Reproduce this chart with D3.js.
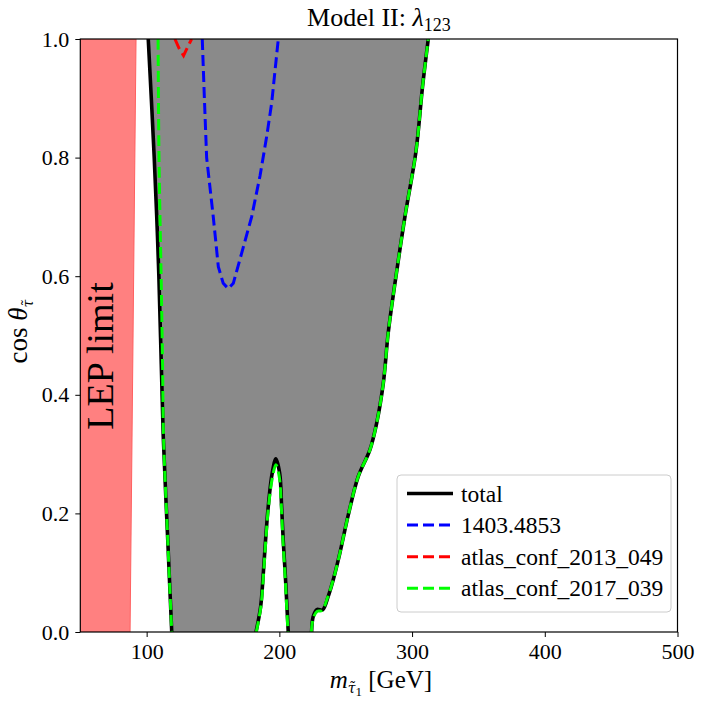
<!DOCTYPE html>
<html>
<head>
<meta charset="utf-8">
<script src="https://cdn.jsdelivr.net/npm/d3@7"></script>
<style>
  body { margin: 0; background: #fff; }
  svg { display: block; }
</style>
</head>
<body>
<svg id="chart" width="705" height="708"></svg>
<script>
// Contours: [mass in GeV, cos theta]
const totalLeft = [[101.2, 1.0], [103.5, 0.9], [105.7, 0.8], [107.6, 0.7], [109.2, 0.6],
  [110.8, 0.47], [112.5, 0.33], [115.8, 0.16], [118.9, 0.0]];
const totalPeak = [[182.4, 0.0], [185.9, 0.043], [187.9, 0.099], [189.6, 0.155], [191.6, 0.211],
  [194.6, 0.268], [197.4, 0.292], [200.2, 0.268], [201.7, 0.211], [202.9, 0.155],
  [204.4, 0.099], [205.7, 0.043], [206.7, 0.0]];
const totalRight = [[224.3, 0.0], [225.5, 0.026], [228.3, 0.038], [232.5, 0.037], [236.8, 0.06],
  [240.6, 0.088], [245.6, 0.133], [251.9, 0.197], [259.4, 0.262], [268.2, 0.307],
  [273.3, 0.352], [278.3, 0.419], [282.0, 0.504], [287.1, 0.588], [294.6, 0.700],
  [302.9, 0.810], [307.9, 0.92], [312.2, 1.0]];

const greenLeft = [[108.6, 1.0], [109.3, 0.8], [110.9, 0.6], [112.0, 0.45], [112.7, 0.33],
  [115.8, 0.16], [118.9, 0.0]];
const greenPeak = [[182.6, 0.0], [186.1, 0.043], [188.1, 0.099], [189.8, 0.155], [191.8, 0.211],
  [194.9, 0.262], [197.4, 0.282], [199.9, 0.262], [201.5, 0.211], [202.7, 0.155],
  [204.2, 0.099], [205.5, 0.043], [206.5, 0.0]];
const greenRight = [[224.1, 0.0], [225.6, 0.024], [228.6, 0.035], [232.0, 0.036], [236.6, 0.06],
  [240.6, 0.088], [245.6, 0.133], [251.9, 0.197], [259.4, 0.262], [268.2, 0.307],
  [273.3, 0.352], [278.3, 0.419], [282.0, 0.504], [287.1, 0.588], [294.6, 0.700],
  [302.9, 0.810], [307.9, 0.92], [312.2, 1.0]];

const blueCurve = [[141.9, 1.0], [143.5, 0.9], [145.2, 0.8], [150.2, 0.70], [154.0, 0.616],
  [157.7, 0.588], [161.5, 0.579], [165.3, 0.588], [171.6, 0.639], [179.1, 0.70],
  [185.4, 0.769], [190.4, 0.835], [194.2, 0.892], [199.2, 1.0]];
const redCurve = [[121.3, 1.0], [124.5, 0.984], [127.8, 0.972], [130.8, 0.986], [133.9, 1.0]];

const lepLimit = [[50, 0], [87.5, 0], [92, 1], [50, 1]];

const xTicks = [100, 200, 300, 400, 500];
const yTicks = [0, 0.2, 0.4, 0.6, 0.8, 1.0];
const legendLabels = ["total", "1403.4853", "atlas_conf_2013_049", "atlas_conf_2017_039"];
const legendColors = ["#000000", "#0000ff", "#ff0000", "#00ff00"];

const SERIF = "'Liberation Serif', 'DejaVu Serif', serif";

const svg = d3.select("#chart").style("font-family", SERIF);
const x = d3.scaleLinear().domain([50, 500]).range([80.3, 677.5]);
const y = d3.scaleLinear().domain([0, 1]).range([632, 39]);

svg.append("defs").append("clipPath").attr("id", "plot-clip")
  .append("rect")
  .attr("x", x(50)).attr("y", y(1))
  .attr("width", x(500) - x(50)).attr("height", y(0) - y(1));

const plot = svg.append("g").attr("clip-path", "url(#plot-clip)");

const smooth = d3.line().x((d) => x(d[0])).y((d) => y(d[1])).curve(d3.curveCatmullRom);
const straight = d3.line().x((d) => x(d[0])).y((d) => y(d[1]));

// excluded region: left branch, along the bottom, peak, right branch, back along the top
const fillPath = smooth(totalLeft)
  + smooth(totalPeak).replace(/^M/, "L")
  + smooth(totalRight).replace(/^M/, "L")
  + "Z";
plot.append("path").attr("d", fillPath).attr("fill", "#8a8a8a");

plot.append("path")
  .attr("d", straight(lepLimit) + "Z")
  .attr("fill", "#ff8080")
  .attr("stroke", "#ff6060")
  .attr("stroke-width", 1);

[totalLeft, totalPeak, totalRight].forEach((seg) => {
  plot.append("path").attr("d", smooth(seg))
    .attr("fill", "none").attr("stroke", "#000").attr("stroke-width", 3.6);
});

plot.append("path").attr("d", straight(blueCurve))
  .attr("fill", "none").attr("stroke", "#0000ff").attr("stroke-width", 3)
  .attr("stroke-dasharray", "11,5");
plot.append("path").attr("d", straight(redCurve))
  .attr("fill", "none").attr("stroke", "#ff0000").attr("stroke-width", 3)
  .attr("stroke-dasharray", "11,5");

[greenLeft, greenPeak, greenRight].forEach((seg) => {
  plot.append("path").attr("d", smooth(seg))
    .attr("fill", "none").attr("stroke", "#00ff00").attr("stroke-width", 3)
    .attr("stroke-dasharray", "11,5");
});

// LEP label
svg.append("text")
  .attr("transform", `translate(113,356) rotate(-90)`)
  .attr("text-anchor", "middle")
  .attr("font-size", 38)
  .style("font-family", SERIF)
  .text("LEP limit");

// axes
const xAxis = svg.append("g").attr("transform", `translate(0,${y(0)})`)
  .call(d3.axisBottom(x).tickValues(xTicks).tickSize(5).tickPadding(5).tickFormat(d3.format("d")));
const yAxis = svg.append("g").attr("transform", `translate(${x(50)},0)`)
  .call(d3.axisLeft(y).tickValues(yTicks).tickSize(5).tickPadding(6).tickFormat(d3.format(".1f")));
[xAxis, yAxis].forEach((g) => {
  g.attr("font-family", null);
  g.select(".domain").remove();
  g.selectAll("text").attr("font-size", 22).attr("fill", "#000").style("font-family", SERIF);
  g.selectAll("line").attr("stroke", "#000").attr("stroke-width", 1);
});
xAxis.selectAll("text").attr("dy", "0.76em");

svg.append("rect")
  .attr("x", x(50)).attr("y", y(1))
  .attr("width", x(500) - x(50)).attr("height", y(0) - y(1))
  .attr("fill", "none").attr("stroke", "#000").attr("stroke-width", 1.2);

// tau with a tilde on top, as a combining mark
function tauTilde(parent, size, dy) {
  parent.append("tspan")
    .attr("font-style", "italic").attr("font-size", size).attr("dy", dy)
    .style("font-family", "'DejaVu Serif', serif")
    .text("τ\u0303");
}

// title
const title = svg.append("text")
  .attr("x", (x(50) + x(500)) / 2).attr("y", 26)
  .attr("text-anchor", "middle").attr("font-size", 26)
  .style("font-family", SERIF);
title.append("tspan").text("Model II: ");
title.append("tspan").attr("font-style", "italic").text("λ");
title.append("tspan").attr("font-size", 18).attr("dy", 5).text("123");

// x label
const xLabel = svg.append("text")
  .attr("x", (x(50) + x(500)) / 2 + 2).attr("y", 688)
  .attr("text-anchor", "middle").attr("font-size", 25)
  .style("font-family", SERIF);
xLabel.append("tspan").attr("font-style", "italic").text("m");
tauTilde(xLabel, 14, 5);
xLabel.append("tspan").attr("font-size", 13).attr("dy", 3).text("1");
xLabel.append("tspan").attr("dy", -8).text(" [GeV]");

// y label
const yLabel = svg.append("text")
  .attr("transform", `translate(27,${(y(0) + y(1)) / 2 - 4}) rotate(-90)`)
  .attr("text-anchor", "middle").attr("font-size", 27)
  .style("font-family", SERIF);
yLabel.append("tspan").text("cos ");
yLabel.append("tspan").attr("font-style", "italic").text("θ");
tauTilde(yLabel, 14, 6);

// legend
const legend = svg.append("g");
legend.append("rect")
  .attr("x", 397).attr("y", 475).attr("width", 274).attr("height", 137).attr("rx", 4)
  .attr("fill", "#fff").attr("fill-opacity", 0.8)
  .attr("stroke", "#cccccc").attr("stroke-width", 1);
legendLabels.forEach((label, i) => {
  const ry = 493.5 + i * 31.6;
  legend.append("line")
    .attr("x1", 407).attr("x2", 453).attr("y1", ry).attr("y2", ry)
    .attr("stroke", legendColors[i])
    .attr("stroke-width", i === 0 ? 3.6 : 3)
    .attr("stroke-dasharray", i === 0 ? null : "11,5");
  legend.append("text")
    .attr("x", 461).attr("y", ry + 8)
    .attr("font-size", 23.5)
    .style("font-family", SERIF)
    .text(label);
});
</script>
</body>
</html>
